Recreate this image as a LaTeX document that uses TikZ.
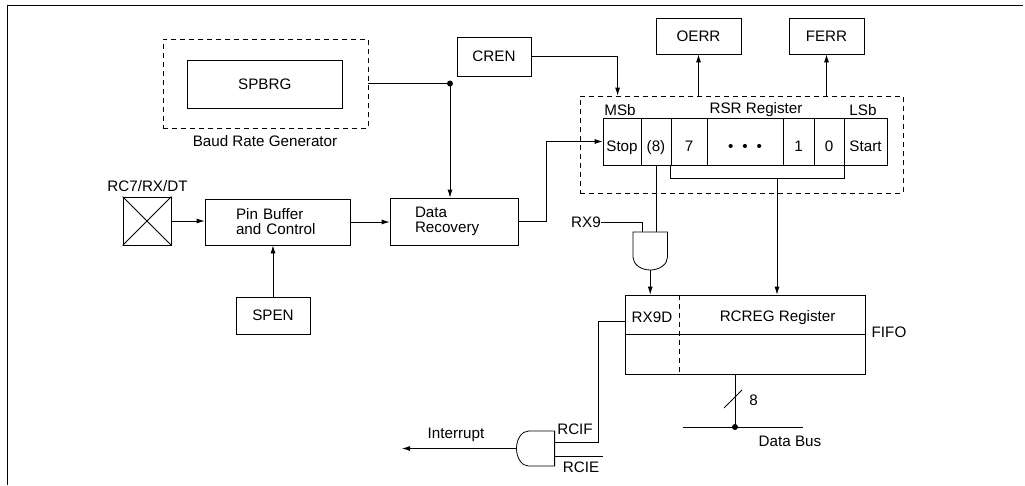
\documentclass[tikz,border=0pt]{standalone}
\usepackage{fontspec}
\setmainfont{Liberation Sans}
\usetikzlibrary{arrows.meta}

\begin{document}
\begin{tikzpicture}[x=1pt,y=-1pt,font=\fontsize{15.2}{15}\selectfont,line width=0.8pt,>={Latex[length=8pt,width=5pt]}]

            \tikzstyle{regBox} = [draw, inner sep=0pt];
            \tikzstyle{dashBox} = [draw, dash pattern=on 5pt off 4pt, inner sep=0pt];
            \tikzstyle{cellBox} = [draw, inner sep=0pt, minimum height=47pt, text height=20pt, text depth=0pt];
            \tikzstyle{txt} = [inner sep=0pt];

            \useasboundingbox (0,0) rectangle (1025,485);
            \draw (7.5,485) -- (7.5,5) -- (1023,5);

            % baud rate generator
            \node[dashBox, minimum width=205pt, minimum height=89pt] (baud) at (265.5,83.5) {};
            \node[regBox, minimum width=154.5pt, minimum height=48pt] (spbrg) at (264.75,84) {SPBRG};
            \node[txt] (baudLbl) at (265,141) {Baud Rate Generator};
            \node[regBox, minimum width=74pt, minimum height=39pt] (cren) at (494,56.5) {CREN};

            % receive path
            \node[txt] (pinLbl) at (147.5,186) {RC7/RX/DT};
            \node[regBox, minimum width=48pt, minimum height=48pt] (pin) at (147,221) {};
            \node[regBox, minimum width=145pt, minimum height=46pt, text width=83pt, align=left] (pinBuf) at (277.5,222) {Pin Buffer\\and Control};
            \node[regBox, minimum width=128pt, minimum height=47pt, text width=78pt, align=left] (dataRec) at (454,221.5) {Data\\Recovery};
            \node[regBox, minimum width=74pt, minimum height=37pt] (spen) at (273,315.5) {SPEN};

            % RSR register
            \node[dashBox, minimum width=323pt, minimum height=97pt] (rsr) at (741.5,144.5) {};
            \node[txt] (msb) at (620,110) {MSb};
            \node[txt] (rsrLbl) at (756,110) {RSR Register};
            \node[txt] (lsb) at (863,110) {LSb};
            \node[cellBox, minimum width=38pt] (stop) at (622,141.5) {Stop};
            \node[cellBox, minimum width=30pt] (b8) at (656,141.5) {(8)};
            \node[cellBox, minimum width=36pt] (b7) at (689,141.5) {7};
            \node[cellBox, minimum width=76pt] (dots) at (745,141.5) {•\hspace{9pt}•\hspace{9pt}•};
            \node[cellBox, minimum width=31pt] (b1) at (798.5,141.5) {1};
            \node[cellBox, minimum width=30pt] (b0) at (829,141.5) {0};
            \node[cellBox, minimum width=43pt] (start) at (865.5,141.5) {Start};
            \node[regBox, minimum width=85pt, minimum height=36pt] (oerr) at (698.5,36) {OERR};
            \node[regBox, minimum width=75pt, minimum height=36pt] (ferr) at (826.5,36) {FERR};

            % RCREG fifo
            \node[regBox, minimum width=240.5pt, minimum height=79pt] (rcreg) at (745.25,334.5) {};
            \node[txt] (rx9dLbl) at (652,317) {RX9D};
            \node[txt] (rcregLbl) at (777.6,318) {RCREG Register};
            \node[txt] (fifo) at (889,332) {FIFO};
            \node[txt] (rx9) at (586,222) {RX9};
            \node[txt] (busWidth) at (753.6,400) {8};
            \node[txt] (busLbl) at (790,441) {Data Bus};
            \node[txt] (intLbl) at (456,435) {Interrupt};
            \node[txt] (rcif) at (575,429) {RCIF};
            \node[txt] (rcie) at (581,467) {RCIE};

            % gates
            \draw (633,232) -- (667.5,232) -- (667.5,257) arc (0:180:17.25 and 13) -- cycle;
            \coordinate (andAin) at (642,232);
            \coordinate (andAout) at (650.25,270);
            \draw (554.6,431) -- (528.5,431) arc (270:90:12 and 17.5) -- (554.6,466) -- cycle;
            \coordinate (andBif) at (554.6,442);
            \coordinate (andBie) at (554.6,456);
            \coordinate (andBout) at (516.5,448.5);

            \coordinate (clk) at (450,83.5);
            \coordinate (rsrOut) at (777,178);
            \coordinate (busDot) at (735,427);

            % connections
            \draw (pin.north west) -- (pin.south east);
            \draw (pin.south west) -- (pin.north east);
            \draw (baud.east) -- (clk);
            \fill (clk) circle (3);
            \draw[->] (clk) -- (clk |- dataRec.north);
            \draw[->] (pin.east) -- (pin.east -| pinBuf.west);
            \draw[->] (pinBuf.east) -- (pinBuf.east -| dataRec.west);
            \draw[->] (spen.north) -- (spen.north |- pinBuf.south);
            \draw[->] (dataRec.east) -- ++(28,0) |- (stop.west);
            \draw[->] (cren.east) -| ([xshift=38pt]rsr.north west);
            \draw[->] (oerr.south |- rsr.north) -- (oerr.south);
            \draw[->] (ferr.south |- rsr.north) -- (ferr.south);
            \draw (b7.south west) -- (b7.south west |- rsrOut) -- (b0.south east |- rsrOut) -- (b0.south east);
            \draw[->] (rsrOut) -- (rsrOut |- rcreg.north);
            \draw (b8.south) -- (b8.south |- andAin);
            \draw (rx9.east) -| (andAin);
            \draw[->] (andAout) -- (andAout |- rcreg.north);
            \draw (rcreg.west) -- (rcreg.east);
            \draw[dash pattern=on 5pt off 4pt] ([xshift=54.4pt]rcreg.north west) -- ([xshift=54.4pt]rcreg.south west);
            \draw ([yshift=13.5pt]rcreg.west) -- ++(-26,0) |- (andBif);
            \draw (andBie) -- ++(48.4,0);
            \draw[->] (andBout) -- ++(-114.5,0);
            \draw ([xshift=-10.25pt]rcreg.south) -- (busDot);
            \fill (busDot) circle (3);
            \draw (724,408) -- (742,390);
            \draw ([xshift=-52pt]busDot) -- ([xshift=68pt]busDot);
          \end{tikzpicture}
\end{document}
